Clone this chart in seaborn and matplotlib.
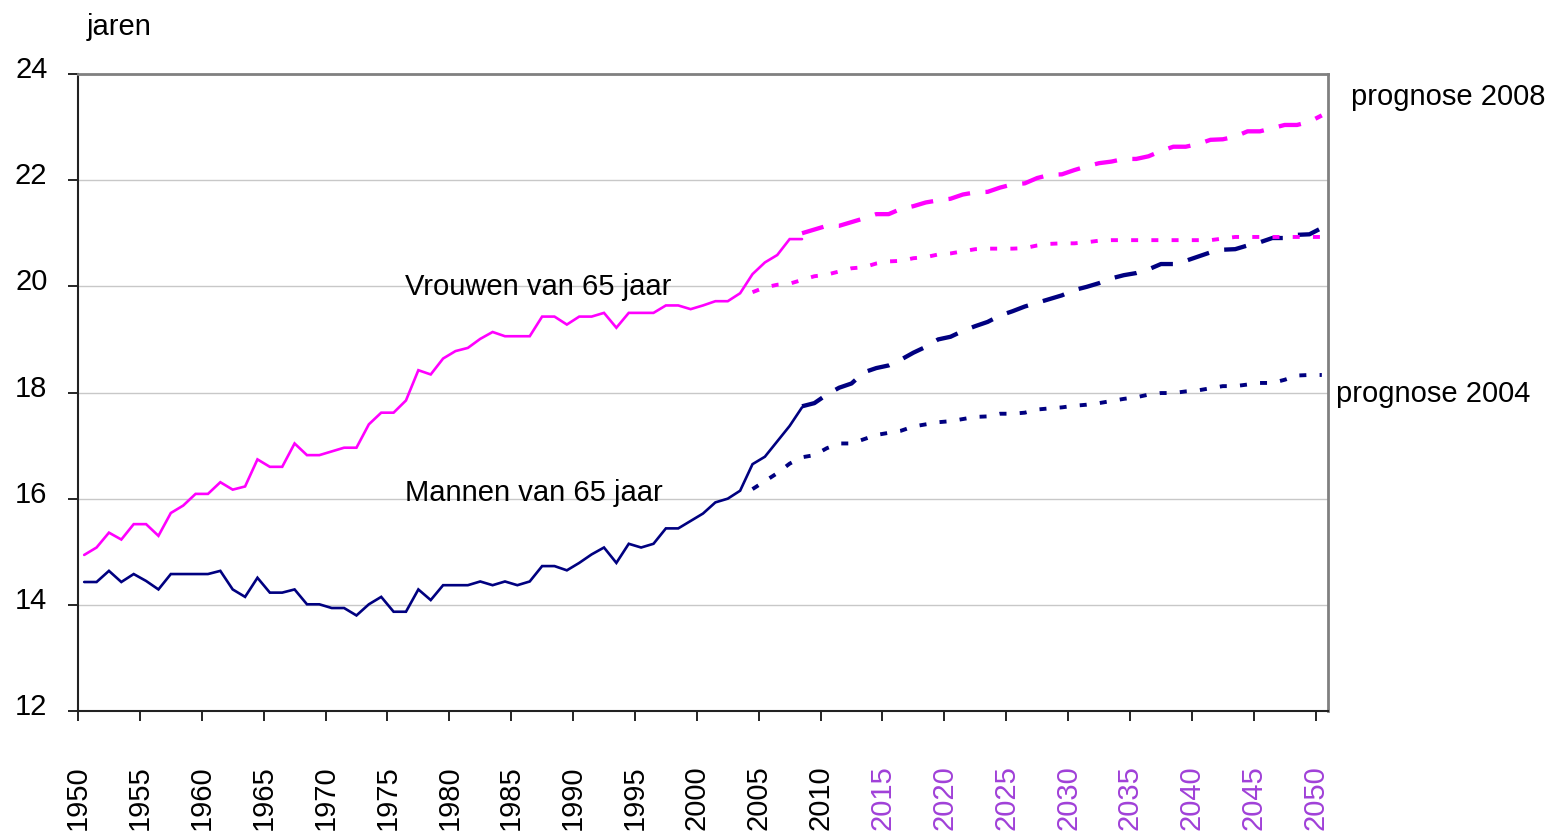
import numpy as np
import pandas as pd
import matplotlib
matplotlib.use("Agg")
import matplotlib.pyplot as plt
import matplotlib.transforms as mtransforms
import seaborn as sns

# historical series 1950-2008
years_hist = list(range(1950, 2009))
vrouwen_hist = [14.94, 15.08, 15.36, 15.23, 15.52, 15.52, 15.30, 15.73, 15.87, 16.09,
                16.09, 16.31, 16.17, 16.23, 16.74, 16.60, 16.60, 17.04, 16.82, 16.82,
                16.89, 16.96, 16.96, 17.40, 17.62, 17.62, 17.85, 18.42, 18.34, 18.64,
                18.78, 18.84, 19.01, 19.14, 19.06, 19.06, 19.06, 19.43, 19.43, 19.28,
                19.43, 19.43, 19.50, 19.22, 19.50, 19.50, 19.50, 19.64, 19.64, 19.57,
                19.64, 19.72, 19.72, 19.87, 20.23, 20.45, 20.59, 20.89, 20.89]
mannen_hist = [14.43, 14.43, 14.64, 14.43, 14.58, 14.45, 14.29, 14.58, 14.58, 14.58,
               14.58, 14.64, 14.29, 14.15, 14.51, 14.23, 14.23, 14.29, 14.01, 14.01,
               13.94, 13.94, 13.80, 14.01, 14.15, 13.87, 13.87, 14.29, 14.09, 14.37,
               14.37, 14.37, 14.44, 14.37, 14.44, 14.37, 14.44, 14.73, 14.73, 14.65,
               14.79, 14.95, 15.08, 14.79, 15.15, 15.08, 15.15, 15.44, 15.44, 15.58,
               15.72, 15.93, 16.00, 16.15, 16.65, 16.79, 17.08, 17.37, 17.72]

# prognose 2008 (2008-2050)
years_p08 = list(range(2008, 2051))
vrouwen_p08 = [21.00, 21.07, 21.14, 21.14, 21.21, 21.28, 21.36, 21.36, 21.46, 21.51,
               21.58, 21.62, 21.65, 21.73, 21.77, 21.78, 21.86, 21.92, 21.94, 22.04,
               22.10, 22.11, 22.19, 22.26, 22.32, 22.35, 22.40, 22.40, 22.45, 22.55,
               22.63, 22.63, 22.68, 22.76, 22.77, 22.82, 22.92, 22.92, 22.98, 23.04,
               23.04, 23.10, 23.22]
mannen_p08 = [17.74, 17.80, 17.96, 18.09, 18.17, 18.38, 18.46, 18.51, 18.62, 18.75,
              18.86, 19.00, 19.05, 19.16, 19.25, 19.33, 19.45, 19.53, 19.62, 19.69,
              19.76, 19.83, 19.93, 19.99, 20.06, 20.15, 20.21, 20.25, 20.32, 20.42,
              20.42, 20.48, 20.56, 20.64, 20.69, 20.70, 20.77, 20.83, 20.91, 20.91,
              20.97, 20.98, 21.10]

# prognose 2004 (2004-2050)
years_p04 = list(range(2004, 2051))
vrouwen_p04 = [19.89, 19.98, 20.03, 20.05, 20.12, 20.19, 20.22, 20.28, 20.34, 20.36,
               20.43, 20.47, 20.48, 20.53, 20.55, 20.60, 20.62, 20.66, 20.70, 20.71,
               20.71, 20.71, 20.72, 20.77, 20.80, 20.81, 20.81, 20.83, 20.86, 20.87,
               20.87, 20.87, 20.87, 20.87, 20.87, 20.87, 20.87, 20.87, 20.90, 20.93,
               20.93, 20.93, 20.93, 20.93, 20.93, 20.93, 20.93]
mannen_p04 = [16.18, 16.33, 16.48, 16.66, 16.78, 16.82, 16.95, 17.04, 17.04, 17.12,
              17.20, 17.24, 17.28, 17.36, 17.40, 17.44, 17.46, 17.50, 17.54, 17.55,
              17.60, 17.60, 17.62, 17.68, 17.70, 17.72, 17.75, 17.77, 17.80, 17.84,
              17.88, 17.91, 17.96, 17.99, 17.99, 18.02, 18.04, 18.08, 18.12, 18.12,
              18.15, 18.18, 18.18, 18.24, 18.32, 18.33, 18.33]

tick_years = list(range(1950, 2051, 5))

PINK = "#FF00FF"
NAVY = "#000080"
PURPLE = "#A040D8"
W, H = 1552, 836

sns.set_style("white")
plt.rcParams["font.family"] = ["Liberation Sans", "DejaVu Sans"]
plt.rcParams["text.color"] = "black"
FS = 21

fig = plt.figure(figsize=(W / 100, H / 100), dpi=100)
ax = fig.add_axes([78 / W, (H - 711) / H, 1250 / W, 637 / H])

solid = dict(linewidth=1.9, solid_joinstyle="miter")
sns.lineplot(x=years_hist, y=vrouwen_hist, color=PINK, ax=ax, sort=False, estimator=None, **solid)
sns.lineplot(x=years_hist, y=mannen_hist, color=NAVY, ax=ax, sort=False, estimator=None, **solid)

dashed = dict(linewidth=3.1, linestyle=(0, (5.2, 3.6)), dash_capstyle="butt")
sns.lineplot(x=years_p08, y=vrouwen_p08, color=PINK, ax=ax, sort=False, estimator=None, **dashed)
sns.lineplot(x=years_p08, y=mannen_p08, color=NAVY, ax=ax, sort=False, estimator=None, **dashed)

dotted = dict(linewidth=2.8, linestyle=(0, (1.8, 3.4)), dash_capstyle="butt")
sns.lineplot(x=years_p04, y=vrouwen_p04, color=PINK, ax=ax, sort=False, estimator=None, **dotted)
sns.lineplot(x=years_p04, y=mannen_p04, color=NAVY, ax=ax, sort=False, estimator=None, **dotted)

ax.set_xlim(1949.5, 2050.5)
ax.set_ylim(12, 24)
ax.set_xlabel("")
ax.set_ylabel("")

# category axis: ticks sit on the boundaries between years
ax.set_xticks([y - 0.5 for y in tick_years])
ax.set_xticklabels([str(y) for y in tick_years], rotation=90, fontsize=FS)
ax.tick_params(axis="x", bottom=True, direction="out", length=7, width=1.2, pad=32,
               color="black", labelcolor="black")
for lab, y in zip(ax.get_xticklabels(), tick_years):
    lab.set_color(PURPLE if y >= 2015 else "black")

ax.set_yticks(range(12, 25, 2))
ax.set_yticklabels([str(v) for v in range(12, 25, 2)], fontsize=FS)
ax.tick_params(axis="y", left=True, direction="out", length=7, width=1.2, pad=15,
               color="black", labelcolor="black")
shift = mtransforms.ScaledTranslation(0, 5 / 72, fig.dpi_scale_trans)
for lab in ax.get_yticklabels():
    lab.set_transform(lab.get_transform() + shift)

ax.yaxis.grid(True, color="#C8C8C8", linewidth=1.0)
ax.xaxis.grid(False)
ax.set_axisbelow(True)

for side in ["left", "bottom"]:
    ax.spines[side].set_color("#222222")
    ax.spines[side].set_linewidth(1.5)
for side in ["top", "right"]:
    ax.spines[side].set_visible(True)
    ax.spines[side].set_color("#808080")
    ax.spines[side].set_linewidth(2.0)

def ftext(px, py, s):
    fig.text(px / W, 1 - py / H, s, fontsize=FS, ha="left", va="baseline", color="black")

ftext(87, 35, "jaren")
ftext(405, 295, "Vrouwen van 65 jaar")
ftext(405, 501, "Mannen van 65 jaar")
ftext(1351, 105, "prognose 2008")
ftext(1336, 402, "prognose 2004")

fig.savefig("out.png", dpi=100, facecolor="white")
